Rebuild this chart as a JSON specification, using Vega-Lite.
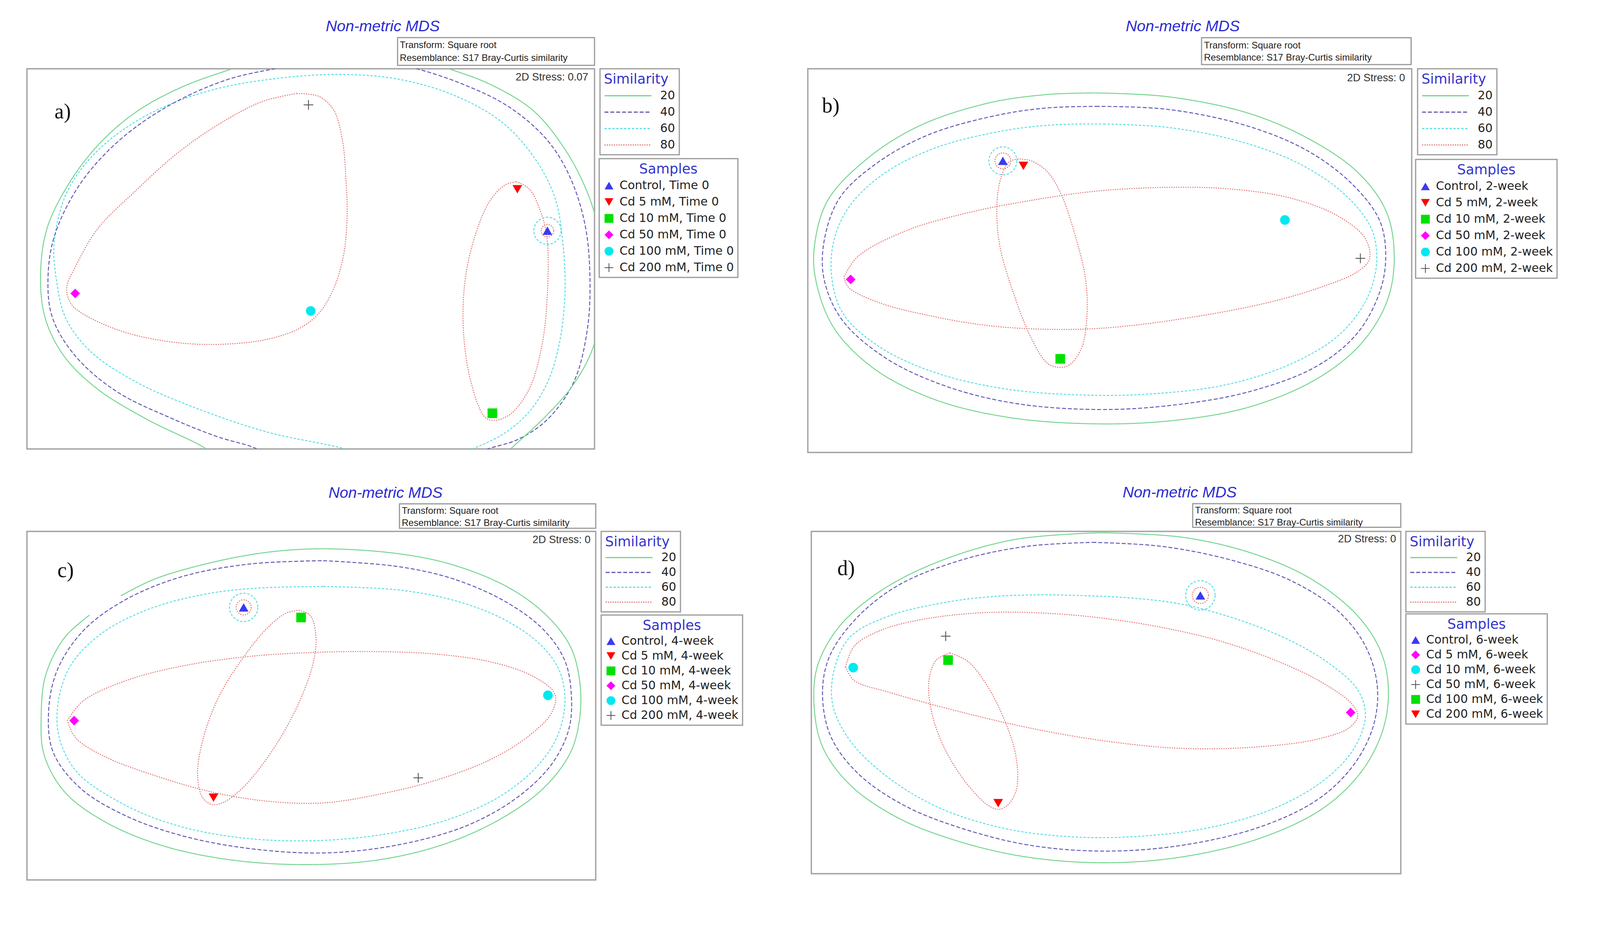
{
"$schema":"https://vega.github.io/schema/vega-lite/v6.json",
"background":"white",
"padding":{"left":67,"top":46,"right":0,"bottom":0},
"config":{
 "font":"Liberation Sans",
 "view":{"stroke":"#a3a3a3","strokeWidth":3.4},
 "title":{"anchor":"start","fontSize":39.5,"fontStyle":"italic","fontWeight":"normal","color":"#2a2ad2","font":"Liberation Sans","offset":6},
 "legend":{"strokeColor":"#9a9a9a","strokeWidth":3,"fillColor":"white","titleFont":"DejaVu Sans","labelFont":"DejaVu Sans","titleFontSize":35,"titleFontWeight":"normal","titleColor":"#3333cc","labelFontSize":30,"labelColor":"#222222","rowPadding":12,"titlePadding":9,"labelLimit":600,"padding":10}
},
"datasets":{
"ca":[
{"c":"cy","s":"60","i":0,"x":62,"y":-3},{"c":"cy","s":"60","i":1,"x":56.1,"y":0},{"c":"cy","s":"60","i":2,"x":42.2,"y":4.5},{"c":"cy","s":"60","i":3,"x":29.0,"y":11.2},{"c":"cy","s":"60","i":4,"x":19.0,"y":17.8},{"c":"cy","s":"60","i":5,"x":11.1,"y":25.8},{"c":"cy","s":"60","i":6,"x":6.8,"y":34.5},{"c":"cy","s":"60","i":7,"x":5.2,"y":44.4},{"c":"cy","s":"60","i":8,"x":4.8,"y":54.4},{"c":"cy","s":"60","i":9,"x":7.1,"y":67.7},{"c":"cy","s":"60","i":10,"x":12.4,"y":78.4},{"c":"cy","s":"60","i":11,"x":21.0,"y":87.7},{"c":"cy","s":"60","i":12,"x":32.3,"y":94.3},{"c":"cy","s":"60","i":13,"x":45.5,"y":97.7},{"c":"cy","s":"60","i":14,"x":56.1,"y":98.5},{"c":"cy","s":"60","i":15,"x":65.3,"y":97.3},{"c":"cy","s":"60","i":16,"x":75.3,"y":93.0},{"c":"cy","s":"60","i":17,"x":83.9,"y":85.7},{"c":"cy","s":"60","i":18,"x":89.8,"y":75.7},{"c":"cy","s":"60","i":19,"x":93.1,"y":65.7},{"c":"cy","s":"60","i":20,"x":94.4,"y":54.4},{"c":"cy","s":"60","i":21,"x":94.8,"y":41.1},{"c":"cy","s":"60","i":22,"x":93.8,"y":27.8},{"c":"cy","s":"60","i":23,"x":91.8,"y":17.8},{"c":"cy","s":"60","i":24,"x":88.5,"y":9.8},{"c":"cy","s":"60","i":25,"x":83.9,"y":3.9},{"c":"cy","s":"60","i":26,"x":77.2,"y":-0.8},{"c":"cy","s":"60","i":27,"x":72,"y":-4},
{"c":"p","s":"40","i":0,"x":42,"y":-2},{"c":"p","s":"40","i":1,"x":40.5,"y":0},{"c":"p","s":"40","i":2,"x":33.6,"y":3.2},{"c":"p","s":"40","i":3,"x":25.7,"y":7.9},{"c":"p","s":"40","i":4,"x":15.7,"y":15.2},{"c":"p","s":"40","i":5,"x":8.5,"y":24.5},{"c":"p","s":"40","i":6,"x":4.5,"y":34.5},{"c":"p","s":"40","i":7,"x":3.7,"y":44.4},{"c":"p","s":"40","i":8,"x":4.8,"y":55.8},{"c":"p","s":"40","i":9,"x":9.1,"y":69.1},{"c":"p","s":"40","i":10,"x":15.7,"y":80.4},{"c":"p","s":"40","i":11,"x":24.3,"y":89.7},{"c":"p","s":"40","i":12,"x":35,"y":97},{"c":"p","s":"40","i":13,"x":45.5,"y":100.5},{"c":"p","s":"40","i":14,"x":56,"y":103},{"c":"p","s":"40","i":15,"x":67.3,"y":100.5},{"c":"p","s":"40","i":16,"x":77.2,"y":95.7},{"c":"p","s":"40","i":17,"x":85.2,"y":89.7},{"c":"p","s":"40","i":18,"x":91.8,"y":81.0},{"c":"p","s":"40","i":19,"x":95.8,"y":71.1},{"c":"p","s":"40","i":20,"x":98.4,"y":58.4},{"c":"p","s":"40","i":21,"x":99.2,"y":44.4},{"c":"p","s":"40","i":22,"x":98.7,"y":31.1},{"c":"p","s":"40","i":23,"x":96.4,"y":17.8},{"c":"p","s":"40","i":24,"x":91.8,"y":7.9},{"c":"p","s":"40","i":25,"x":86.5,"y":2.5},{"c":"p","s":"40","i":26,"x":81.2,"y":0},{"c":"p","s":"40","i":27,"x":78,"y":-2},
{"c":"g","s":"20","i":0,"x":33,"y":-2},{"c":"g","s":"20","i":1,"x":31.6,"y":0},{"c":"g","s":"20","i":2,"x":21.0,"y":7.9},{"c":"g","s":"20","i":3,"x":12.4,"y":15.8},{"c":"g","s":"20","i":4,"x":6.5,"y":24.5},{"c":"g","s":"20","i":5,"x":3.2,"y":34.5},{"c":"g","s":"20","i":6,"x":2.4,"y":45.8},{"c":"g","s":"20","i":7,"x":3.5,"y":57.8},{"c":"g","s":"20","i":8,"x":7.1,"y":69.1},{"c":"g","s":"20","i":9,"x":12.4,"y":79.7},{"c":"g","s":"20","i":10,"x":19.0,"y":88.4},{"c":"g","s":"20","i":11,"x":27.0,"y":95.0},{"c":"g","s":"20","i":12,"x":36.2,"y":100},{"c":"g","s":"20","i":13,"x":45,"y":104},{"c":"g","s":"20","i":14,"x":55,"y":106},{"c":"g","s":"20","i":15,"x":65,"y":104},{"c":"g","s":"20","i":16,"x":74.3,"y":100},{"c":"g","s":"20","i":17,"x":81.9,"y":95.7},{"c":"g","s":"20","i":18,"x":89.2,"y":89.0},{"c":"g","s":"20","i":19,"x":94.4,"y":79.7},{"c":"g","s":"20","i":20,"x":98.1,"y":69.7},{"c":"g","s":"20","i":21,"x":100.4,"y":59.7},{"c":"g","s":"20","i":22,"x":101.4,"y":47.8},{"c":"g","s":"20","i":23,"x":100.7,"y":34.5},{"c":"g","s":"20","i":24,"x":99.7,"y":26.5},{"c":"g","s":"20","i":25,"x":96.4,"y":17.2},{"c":"g","s":"20","i":26,"x":91.8,"y":9.2},{"c":"g","s":"20","i":27,"x":85.2,"y":0},{"c":"g","s":"20","i":28,"x":83,"y":-3},
{"c":"r1","s":"80","i":0,"x":47.5,"y":93.5},{"c":"r1","s":"80","i":1,"x":51.5,"y":92.7},{"c":"r1","s":"80","i":2,"x":54.1,"y":89.0},{"c":"r1","s":"80","i":3,"x":55.6,"y":81.0},{"c":"r1","s":"80","i":4,"x":56.2,"y":71.1},{"c":"r1","s":"80","i":5,"x":56.4,"y":61.1},{"c":"r1","s":"80","i":6,"x":55.8,"y":51.1},{"c":"r1","s":"80","i":7,"x":54.1,"y":42.4},{"c":"r1","s":"80","i":8,"x":51.5,"y":35.8},{"c":"r1","s":"80","i":9,"x":48.1,"y":31.8},{"c":"r1","s":"80","i":10,"x":42.2,"y":28.8},{"c":"r1","s":"80","i":11,"x":33.6,"y":27.5},{"c":"r1","s":"80","i":12,"x":25.7,"y":28.1},{"c":"r1","s":"80","i":13,"x":17.7,"y":30.5},{"c":"r1","s":"80","i":14,"x":11.1,"y":34.5},{"c":"r1","s":"80","i":15,"x":7.8,"y":38.1},{"c":"r1","s":"80","i":16,"x":7.0,"y":42.4},{"c":"r1","s":"80","i":17,"x":8.5,"y":47.8},{"c":"r1","s":"80","i":18,"x":12.4,"y":57.8},{"c":"r1","s":"80","i":19,"x":19.0,"y":67.7},{"c":"r1","s":"80","i":20,"x":27.0,"y":78.4},{"c":"r1","s":"80","i":21,"x":34.9,"y":86.4},{"c":"r1","s":"80","i":22,"x":41.5,"y":91.4},{"c":"r1","s":"80","i":23,"x":47.5,"y":93.5},
{"c":"r2","s":"80","i":0,"x":86.2,"y":70.3},{"c":"r2","s":"80","i":1,"x":88.5,"y":68.4},{"c":"r2","s":"80","i":2,"x":90.8,"y":61.1},{"c":"r2","s":"80","i":3,"x":91.7,"y":54.4},{"c":"r2","s":"80","i":4,"x":91.7,"y":41.1},{"c":"r2","s":"80","i":5,"x":90.8,"y":27.8},{"c":"r2","s":"80","i":6,"x":88.5,"y":15.8},{"c":"r2","s":"80","i":7,"x":85.2,"y":9.2},{"c":"r2","s":"80","i":8,"x":82.2,"y":7.5},{"c":"r2","s":"80","i":9,"x":80.6,"y":8.5},{"c":"r2","s":"80","i":10,"x":78.2,"y":17.8},{"c":"r2","s":"80","i":11,"x":76.9,"y":31.1},{"c":"r2","s":"80","i":12,"x":77.2,"y":44.4},{"c":"r2","s":"80","i":13,"x":78.9,"y":55.8},{"c":"r2","s":"80","i":14,"x":81.5,"y":65.1},{"c":"r2","s":"80","i":15,"x":84.2,"y":69.4},{"c":"r2","s":"80","i":16,"x":86.2,"y":70.3}
],
"sa":[
{"sample":"Control, Time 0","x":91.7,"y":57.4},{"sample":"Cd 5 mM, Time 0","x":86.4,"y":68.3},{"sample":"Cd 10 mM, Time 0","x":82.0,"y":9.4},{"sample":"Cd 50 mM, Time 0","x":8.5,"y":40.9},{"sample":"Cd 100 mM, Time 0","x":50.0,"y":36.3},{"sample":"Cd 200 mM, Time 0","x":49.6,"y":90.5}
],
"cb":[
{"c":"g","s":"20","i":0,"x":47.7,"y":93.7},{"c":"g","s":"20","i":1,"x":59.7,"y":92.7},{"c":"g","s":"20","i":2,"x":73.0,"y":88.4},{"c":"g","s":"20","i":3,"x":83.0,"y":81.7},{"c":"g","s":"20","i":4,"x":91.0,"y":73.1},{"c":"g","s":"20","i":5,"x":95.7,"y":63.1},{"c":"g","s":"20","i":6,"x":97.1,"y":51.8},{"c":"g","s":"20","i":7,"x":96.0,"y":39.8},{"c":"g","s":"20","i":8,"x":91.7,"y":28.5},{"c":"g","s":"20","i":9,"x":84.3,"y":19.2},{"c":"g","s":"20","i":10,"x":73.0,"y":11.8},{"c":"g","s":"20","i":11,"x":59.7,"y":8.2},{"c":"g","s":"20","i":12,"x":46.3,"y":7.5},{"c":"g","s":"20","i":13,"x":33.0,"y":9.2},{"c":"g","s":"20","i":14,"x":21.0,"y":13.8},{"c":"g","s":"20","i":15,"x":11.0,"y":21.8},{"c":"g","s":"20","i":16,"x":4.3,"y":32.5},{"c":"g","s":"20","i":17,"x":1.3,"y":45.1},{"c":"g","s":"20","i":18,"x":1.1,"y":53.8},{"c":"g","s":"20","i":19,"x":3.3,"y":65.7},{"c":"g","s":"20","i":20,"x":9.7,"y":76.4},{"c":"g","s":"20","i":21,"x":18.3,"y":85.0},{"c":"g","s":"20","i":22,"x":29.7,"y":91.0},{"c":"g","s":"20","i":23,"x":39.7,"y":93.3},{"c":"g","s":"20","i":24,"x":47.7,"y":93.7},
{"c":"p","s":"40","i":0,"x":47.7,"y":90.2},{"c":"p","s":"40","i":1,"x":59.7,"y":89.4},{"c":"p","s":"40","i":2,"x":73.0,"y":85.0},{"c":"p","s":"40","i":3,"x":83.0,"y":78.4},{"c":"p","s":"40","i":4,"x":90.3,"y":69.7},{"c":"p","s":"40","i":5,"x":94.7,"y":60.4},{"c":"p","s":"40","i":6,"x":95.7,"y":51.1},{"c":"p","s":"40","i":7,"x":94.7,"y":41.8},{"c":"p","s":"40","i":8,"x":91.0,"y":31.1},{"c":"p","s":"40","i":9,"x":84.3,"y":22.5},{"c":"p","s":"40","i":10,"x":73.0,"y":15.8},{"c":"p","s":"40","i":11,"x":59.7,"y":12.2},{"c":"p","s":"40","i":12,"x":47.7,"y":11.2},{"c":"p","s":"40","i":13,"x":34.3,"y":12.8},{"c":"p","s":"40","i":14,"x":23.0,"y":17.2},{"c":"p","s":"40","i":15,"x":13.0,"y":24.5},{"c":"p","s":"40","i":16,"x":5.7,"y":34.5},{"c":"p","s":"40","i":17,"x":2.7,"y":45.1},{"c":"p","s":"40","i":18,"x":2.7,"y":55.1},{"c":"p","s":"40","i":19,"x":5.3,"y":66.4},{"c":"p","s":"40","i":20,"x":11.7,"y":75.7},{"c":"p","s":"40","i":21,"x":20.3,"y":83.0},{"c":"p","s":"40","i":22,"x":31.7,"y":88.0},{"c":"p","s":"40","i":23,"x":39.7,"y":89.8},{"c":"p","s":"40","i":24,"x":47.7,"y":90.2},
{"c":"cy","s":"60","i":0,"x":49.0,"y":85.6},{"c":"cy","s":"60","i":1,"x":59.7,"y":84.7},{"c":"cy","s":"60","i":2,"x":71.7,"y":81.0},{"c":"cy","s":"60","i":3,"x":81.7,"y":75.0},{"c":"cy","s":"60","i":4,"x":89.0,"y":67.1},{"c":"cy","s":"60","i":5,"x":93.3,"y":58.4},{"c":"cy","s":"60","i":6,"x":94.2,"y":49.8},{"c":"cy","s":"60","i":7,"x":92.7,"y":40.5},{"c":"cy","s":"60","i":8,"x":88.3,"y":31.1},{"c":"cy","s":"60","i":9,"x":81.0,"y":23.8},{"c":"cy","s":"60","i":10,"x":69.7,"y":17.8},{"c":"cy","s":"60","i":11,"x":56.3,"y":15.2},{"c":"cy","s":"60","i":12,"x":45.0,"y":15.0},{"c":"cy","s":"60","i":13,"x":33.0,"y":16.5},{"c":"cy","s":"60","i":14,"x":21.7,"y":20.5},{"c":"cy","s":"60","i":15,"x":12.3,"y":27.1},{"c":"cy","s":"60","i":16,"x":6.0,"y":35.8},{"c":"cy","s":"60","i":17,"x":4.0,"y":45.1},{"c":"cy","s":"60","i":18,"x":4.3,"y":55.1},{"c":"cy","s":"60","i":19,"x":7.0,"y":64.4},{"c":"cy","s":"60","i":20,"x":13.0,"y":73.1},{"c":"cy","s":"60","i":21,"x":21.7,"y":79.7},{"c":"cy","s":"60","i":22,"x":33.0,"y":84.0},{"c":"cy","s":"60","i":23,"x":41.0,"y":85.4},{"c":"cy","s":"60","i":24,"x":49.0,"y":85.6},
{"c":"r1","s":"80","i":0,"x":6.0,"y":45.8},{"c":"r1","s":"80","i":1,"x":8.3,"y":51.1},{"c":"r1","s":"80","i":2,"x":16.3,"y":57.8},{"c":"r1","s":"80","i":3,"x":26.3,"y":62.4},{"c":"r1","s":"80","i":4,"x":37.0,"y":65.7},{"c":"r1","s":"80","i":5,"x":47.7,"y":68.1},{"c":"r1","s":"80","i":6,"x":59.7,"y":69.1},{"c":"r1","s":"80","i":7,"x":69.7,"y":68.7},{"c":"r1","s":"80","i":8,"x":79.7,"y":66.4},{"c":"r1","s":"80","i":9,"x":87.7,"y":61.7},{"c":"r1","s":"80","i":10,"x":92.3,"y":55.8},{"c":"r1","s":"80","i":11,"x":93.0,"y":50.4},{"c":"r1","s":"80","i":12,"x":91.0,"y":47.1},{"c":"r1","s":"80","i":13,"x":85.0,"y":43.1},{"c":"r1","s":"80","i":14,"x":76.3,"y":39.1},{"c":"r1","s":"80","i":15,"x":63.0,"y":35.1},{"c":"r1","s":"80","i":16,"x":49.7,"y":32.5},{"c":"r1","s":"80","i":17,"x":39.7,"y":32.1},{"c":"r1","s":"80","i":18,"x":29.7,"y":33.1},{"c":"r1","s":"80","i":19,"x":19.7,"y":35.8},{"c":"r1","s":"80","i":20,"x":11.7,"y":39.1},{"c":"r1","s":"80","i":21,"x":6.7,"y":43.1},{"c":"r1","s":"80","i":22,"x":6.0,"y":45.8},
{"c":"r2","s":"80","i":0,"x":34.7,"y":76.5},{"c":"r2","s":"80","i":1,"x":37.0,"y":76.0},{"c":"r2","s":"80","i":2,"x":39.7,"y":73.1},{"c":"r2","s":"80","i":3,"x":42.0,"y":67.1},{"c":"r2","s":"80","i":4,"x":44.3,"y":56.4},{"c":"r2","s":"80","i":5,"x":46.0,"y":45.1},{"c":"r2","s":"80","i":6,"x":46.2,"y":35.1},{"c":"r2","s":"80","i":7,"x":45.3,"y":27.1},{"c":"r2","s":"80","i":8,"x":43.3,"y":22.8},{"c":"r2","s":"80","i":9,"x":41.7,"y":22.2},{"c":"r2","s":"80","i":10,"x":39.7,"y":23.2},{"c":"r2","s":"80","i":11,"x":37.0,"y":29.8},{"c":"r2","s":"80","i":12,"x":34.0,"y":41.8},{"c":"r2","s":"80","i":13,"x":31.8,"y":53.8},{"c":"r2","s":"80","i":14,"x":31.3,"y":64.4},{"c":"r2","s":"80","i":15,"x":32.0,"y":71.7},{"c":"r2","s":"80","i":16,"x":33.3,"y":75.7},{"c":"r2","s":"80","i":17,"x":34.7,"y":76.5}
],
"sb":[
{"sample":"Control, 2-week","x":32.3,"y":76.0},{"sample":"Cd 5 mM, 2-week","x":35.7,"y":74.7},{"sample":"Cd 10 mM, 2-week","x":41.8,"y":24.4},{"sample":"Cd 50 mM, 2-week","x":7.1,"y":45.1},{"sample":"Cd 100 mM, 2-week","x":79.0,"y":60.6},{"sample":"Cd 200 mM, 2-week","x":91.5,"y":50.6}
],
"cc":[
{"c":"g","s":"20","i":0,"x":16.5,"y":81.5},{"c":"g","s":"20","i":1,"x":22.4,"y":86.3},{"c":"g","s":"20","i":2,"x":32.3,"y":91.0},{"c":"g","s":"20","i":3,"x":42.2,"y":94.0},{"c":"g","s":"20","i":4,"x":52.1,"y":95.0},{"c":"g","s":"20","i":5,"x":65.3,"y":93.6},{"c":"g","s":"20","i":6,"x":75.1,"y":90.3},{"c":"g","s":"20","i":7,"x":85.0,"y":83.6},{"c":"g","s":"20","i":8,"x":91.6,"y":75.5},{"c":"g","s":"20","i":9,"x":95.6,"y":66.8},{"c":"g","s":"20","i":10,"x":97.2,"y":56.8},{"c":"g","s":"20","i":11,"x":97.2,"y":46.7},{"c":"g","s":"20","i":12,"x":95.6,"y":36.7},{"c":"g","s":"20","i":13,"x":91.0,"y":26.6},{"c":"g","s":"20","i":14,"x":83.7,"y":17.9},{"c":"g","s":"20","i":15,"x":73.8,"y":10.5},{"c":"g","s":"20","i":16,"x":62.0,"y":5.8},{"c":"g","s":"20","i":17,"x":48.8,"y":4.4},{"c":"g","s":"20","i":18,"x":35.6,"y":5.8},{"c":"g","s":"20","i":19,"x":23.7,"y":9.9},{"c":"g","s":"20","i":20,"x":13.8,"y":16.6},{"c":"g","s":"20","i":21,"x":6.6,"y":25.3},{"c":"g","s":"20","i":22,"x":3.0,"y":36.0},{"c":"g","s":"20","i":23,"x":2.5,"y":46.7},{"c":"g","s":"20","i":24,"x":3.3,"y":58.8},{"c":"g","s":"20","i":25,"x":6.6,"y":69.5},{"c":"g","s":"20","i":26,"x":11.0,"y":76.0},
{"c":"p","s":"40","i":0,"x":52.1,"y":91.6},{"c":"p","s":"40","i":1,"x":65.3,"y":89.9},{"c":"p","s":"40","i":2,"x":75.1,"y":86.3},{"c":"p","s":"40","i":3,"x":84.4,"y":79.6},{"c":"p","s":"40","i":4,"x":91.0,"y":71.5},{"c":"p","s":"40","i":5,"x":94.6,"y":62.8},{"c":"p","s":"40","i":6,"x":95.7,"y":53.4},{"c":"p","s":"40","i":7,"x":95.3,"y":43.4},{"c":"p","s":"40","i":8,"x":92.3,"y":33.3},{"c":"p","s":"40","i":9,"x":86.4,"y":23.9},{"c":"p","s":"40","i":10,"x":77.8,"y":15.9},{"c":"p","s":"40","i":11,"x":66.6,"y":10.5},{"c":"p","s":"40","i":12,"x":53.4,"y":7.8},{"c":"p","s":"40","i":13,"x":40.2,"y":8.8},{"c":"p","s":"40","i":14,"x":27.7,"y":12.5},{"c":"p","s":"40","i":15,"x":17.1,"y":18.6},{"c":"p","s":"40","i":16,"x":9.2,"y":26.6},{"c":"p","s":"40","i":17,"x":4.6,"y":36.7},{"c":"p","s":"40","i":18,"x":3.8,"y":48.1},{"c":"p","s":"40","i":19,"x":5.3,"y":60.1},{"c":"p","s":"40","i":20,"x":9.9,"y":71.5},{"c":"p","s":"40","i":21,"x":17.1,"y":80.2},{"c":"p","s":"40","i":22,"x":27.0,"y":86.9},{"c":"p","s":"40","i":23,"x":38.9,"y":90.6},{"c":"p","s":"40","i":24,"x":52.1,"y":91.6},
{"c":"cy","s":"60","i":0,"x":52.1,"y":84.2},{"c":"cy","s":"60","i":1,"x":65.3,"y":83.2},{"c":"cy","s":"60","i":2,"x":75.1,"y":80.2},{"c":"cy","s":"60","i":3,"x":83.7,"y":74.9},{"c":"cy","s":"60","i":4,"x":90.3,"y":67.5},{"c":"cy","s":"60","i":5,"x":93.6,"y":60.1},{"c":"cy","s":"60","i":6,"x":94.6,"y":51.4},{"c":"cy","s":"60","i":7,"x":93.3,"y":41.4},{"c":"cy","s":"60","i":8,"x":89.7,"y":32.6},{"c":"cy","s":"60","i":9,"x":83.1,"y":23.9},{"c":"cy","s":"60","i":10,"x":73.8,"y":17.2},{"c":"cy","s":"60","i":11,"x":62.0,"y":12.9},{"c":"cy","s":"60","i":12,"x":48.8,"y":11.2},{"c":"cy","s":"60","i":13,"x":35.6,"y":12.5},{"c":"cy","s":"60","i":14,"x":24.4,"y":16.6},{"c":"cy","s":"60","i":15,"x":15.2,"y":23.3},{"c":"cy","s":"60","i":16,"x":8.6,"y":31.3},{"c":"cy","s":"60","i":17,"x":5.6,"y":41.4},{"c":"cy","s":"60","i":18,"x":5.6,"y":52.1},{"c":"cy","s":"60","i":19,"x":7.9,"y":62.1},{"c":"cy","s":"60","i":20,"x":13.2,"y":70.8},{"c":"cy","s":"60","i":21,"x":21.1,"y":77.5},{"c":"cy","s":"60","i":22,"x":31.0,"y":81.9},{"c":"cy","s":"60","i":23,"x":40.2,"y":83.7},{"c":"cy","s":"60","i":24,"x":52.1,"y":84.2},
{"c":"r1","s":"80","i":0,"x":7.1,"y":45.7},{"c":"r1","s":"80","i":1,"x":9.9,"y":51.4},{"c":"r1","s":"80","i":2,"x":17.8,"y":57.4},{"c":"r1","s":"80","i":3,"x":27.7,"y":61.5},{"c":"r1","s":"80","i":4,"x":38.9,"y":64.1},{"c":"r1","s":"80","i":5,"x":50.8,"y":65.3},{"c":"r1","s":"80","i":6,"x":62.0,"y":65.5},{"c":"r1","s":"80","i":7,"x":71.9,"y":64.8},{"c":"r1","s":"80","i":8,"x":81.7,"y":62.5},{"c":"r1","s":"80","i":9,"x":89.0,"y":58.4},{"c":"r1","s":"80","i":10,"x":92.8,"y":53.4},{"c":"r1","s":"80","i":11,"x":92.3,"y":48.1},{"c":"r1","s":"80","i":12,"x":88.3,"y":41.4},{"c":"r1","s":"80","i":13,"x":81.7,"y":34.7},{"c":"r1","s":"80","i":14,"x":71.9,"y":28.6},{"c":"r1","s":"80","i":15,"x":62.0,"y":24.6},{"c":"r1","s":"80","i":16,"x":52.1,"y":22.1},{"c":"r1","s":"80","i":17,"x":42.2,"y":22.6},{"c":"r1","s":"80","i":18,"x":32.3,"y":25.3},{"c":"r1","s":"80","i":19,"x":22.4,"y":30.0},{"c":"r1","s":"80","i":20,"x":13.8,"y":35.3},{"c":"r1","s":"80","i":21,"x":8.6,"y":40.7},{"c":"r1","s":"80","i":22,"x":7.1,"y":45.7},
{"c":"r2","s":"80","i":0,"x":47.8,"y":77.4},{"c":"r2","s":"80","i":1,"x":49.8,"y":75.9},{"c":"r2","s":"80","i":2,"x":50.8,"y":70.2},{"c":"r2","s":"80","i":3,"x":50.4,"y":62.8},{"c":"r2","s":"80","i":4,"x":48.5,"y":53.4},{"c":"r2","s":"80","i":5,"x":45.5,"y":43.4},{"c":"r2","s":"80","i":6,"x":41.5,"y":33.3},{"c":"r2","s":"80","i":7,"x":37.6,"y":25.9},{"c":"r2","s":"80","i":8,"x":34.6,"y":22.3},{"c":"r2","s":"80","i":9,"x":32.6,"y":21.6},{"c":"r2","s":"80","i":10,"x":30.9,"y":23.6},{"c":"r2","s":"80","i":11,"x":30.0,"y":30.0},{"c":"r2","s":"80","i":12,"x":30.9,"y":40.0},{"c":"r2","s":"80","i":13,"x":33.6,"y":52.1},{"c":"r2","s":"80","i":14,"x":37.6,"y":62.8},{"c":"r2","s":"80","i":15,"x":42.2,"y":72.2},{"c":"r2","s":"80","i":16,"x":45.5,"y":76.5},{"c":"r2","s":"80","i":17,"x":47.8,"y":77.4}
],
"sc":[
{"sample":"Control, 4-week","x":38.1,"y":78.2},{"sample":"Cd 5 mM, 4-week","x":32.8,"y":23.6},{"sample":"Cd 10 mM, 4-week","x":48.2,"y":75.3},{"sample":"Cd 50 mM, 4-week","x":8.3,"y":45.7},{"sample":"Cd 100 mM, 4-week","x":91.6,"y":53.0},{"sample":"Cd 200 mM, 4-week","x":68.8,"y":29.3}
],
"cd":[
{"c":"g","s":"20","i":0,"x":49.0,"y":99.6},{"c":"g","s":"20","i":1,"x":62.9,"y":98.3},{"c":"g","s":"20","i":2,"x":74.8,"y":93.6},{"c":"g","s":"20","i":3,"x":84.8,"y":86.1},{"c":"g","s":"20","i":4,"x":92.7,"y":75.3},{"c":"g","s":"20","i":5,"x":96.7,"y":64.5},{"c":"g","s":"20","i":6,"x":97.9,"y":53.7},{"c":"g","s":"20","i":7,"x":97.0,"y":42.2},{"c":"g","s":"20","i":8,"x":93.4,"y":30.0},{"c":"g","s":"20","i":9,"x":86.8,"y":19.1},{"c":"g","s":"20","i":10,"x":76.2,"y":10.4},{"c":"g","s":"20","i":11,"x":62.9,"y":4.9},{"c":"g","s":"20","i":12,"x":49.7,"y":3.2},{"c":"g","s":"20","i":13,"x":36.4,"y":4.9},{"c":"g","s":"20","i":14,"x":24.5,"y":9.7},{"c":"g","s":"20","i":15,"x":14.6,"y":16.4},{"c":"g","s":"20","i":16,"x":6.6,"y":25.9},{"c":"g","s":"20","i":17,"x":2.0,"y":36.7},{"c":"g","s":"20","i":18,"x":0.5,"y":48.2},{"c":"g","s":"20","i":19,"x":1.0,"y":60.4},{"c":"g","s":"20","i":20,"x":4.6,"y":71.9},{"c":"g","s":"20","i":21,"x":11.3,"y":82.1},{"c":"g","s":"20","i":22,"x":21.2,"y":90.9},{"c":"g","s":"20","i":23,"x":34.4,"y":97.6},{"c":"g","s":"20","i":24,"x":49.0,"y":99.6},
{"c":"p","s":"40","i":0,"x":47.7,"y":96.8},{"c":"p","s":"40","i":1,"x":59.6,"y":95.6},{"c":"p","s":"40","i":2,"x":71.5,"y":91.5},{"c":"p","s":"40","i":3,"x":81.5,"y":85.5},{"c":"p","s":"40","i":4,"x":89.4,"y":76.7},{"c":"p","s":"40","i":5,"x":94.0,"y":66.5},{"c":"p","s":"40","i":6,"x":96.0,"y":55.0},{"c":"p","s":"40","i":7,"x":95.4,"y":43.5},{"c":"p","s":"40","i":8,"x":92.1,"y":32.0},{"c":"p","s":"40","i":9,"x":86.1,"y":21.9},{"c":"p","s":"40","i":10,"x":76.2,"y":13.7},{"c":"p","s":"40","i":11,"x":62.9,"y":8.3},{"c":"p","s":"40","i":12,"x":49.7,"y":6.6},{"c":"p","s":"40","i":13,"x":37.1,"y":8.3},{"c":"p","s":"40","i":14,"x":25.8,"y":13.1},{"c":"p","s":"40","i":15,"x":15.9,"y":19.8},{"c":"p","s":"40","i":16,"x":7.9,"y":29.3},{"c":"p","s":"40","i":17,"x":3.3,"y":40.1},{"c":"p","s":"40","i":18,"x":1.9,"y":52.3},{"c":"p","s":"40","i":19,"x":3.0,"y":63.1},{"c":"p","s":"40","i":20,"x":7.3,"y":74.0},{"c":"p","s":"40","i":21,"x":14.6,"y":84.1},{"c":"p","s":"40","i":22,"x":25.2,"y":91.5},{"c":"p","s":"40","i":23,"x":36.4,"y":95.6},{"c":"p","s":"40","i":24,"x":47.7,"y":96.8},
{"c":"cy","s":"60","i":0,"x":39.7,"y":81.5},{"c":"cy","s":"60","i":1,"x":53.0,"y":80.7},{"c":"cy","s":"60","i":2,"x":62.9,"y":78.7},{"c":"cy","s":"60","i":3,"x":72.8,"y":74.0},{"c":"cy","s":"60","i":4,"x":81.5,"y":67.9},{"c":"cy","s":"60","i":5,"x":88.1,"y":61.1},{"c":"cy","s":"60","i":6,"x":92.7,"y":53.7},{"c":"cy","s":"60","i":7,"x":94.0,"y":46.2},{"c":"cy","s":"60","i":8,"x":92.1,"y":36.7},{"c":"cy","s":"60","i":9,"x":87.4,"y":27.9},{"c":"cy","s":"60","i":10,"x":79.5,"y":19.8},{"c":"cy","s":"60","i":11,"x":68.2,"y":13.7},{"c":"cy","s":"60","i":12,"x":56.3,"y":11.0},{"c":"cy","s":"60","i":13,"x":45.0,"y":10.7},{"c":"cy","s":"60","i":14,"x":33.1,"y":13.1},{"c":"cy","s":"60","i":15,"x":21.9,"y":19.1},{"c":"cy","s":"60","i":16,"x":13.2,"y":27.9},{"c":"cy","s":"60","i":17,"x":6.6,"y":38.8},{"c":"cy","s":"60","i":18,"x":3.6,"y":49.6},{"c":"cy","s":"60","i":19,"x":4.0,"y":60.4},{"c":"cy","s":"60","i":20,"x":6.6,"y":69.2},{"c":"cy","s":"60","i":21,"x":13.2,"y":75.3},{"c":"cy","s":"60","i":22,"x":23.2,"y":79.4},{"c":"cy","s":"60","i":23,"x":31.8,"y":81.1},{"c":"cy","s":"60","i":24,"x":39.7,"y":81.5},
{"c":"r1","s":"80","i":0,"x":5.8,"y":60.4},{"c":"r1","s":"80","i":1,"x":7.3,"y":66.5},{"c":"r1","s":"80","i":2,"x":11.9,"y":71.2},{"c":"r1","s":"80","i":3,"x":19.9,"y":74.6},{"c":"r1","s":"80","i":4,"x":29.8,"y":76.3},{"c":"r1","s":"80","i":5,"x":39.7,"y":76.1},{"c":"r1","s":"80","i":6,"x":49.7,"y":74.6},{"c":"r1","s":"80","i":7,"x":59.6,"y":71.9},{"c":"r1","s":"80","i":8,"x":69.5,"y":67.9},{"c":"r1","s":"80","i":9,"x":79.5,"y":61.8},{"c":"r1","s":"80","i":10,"x":86.8,"y":55.7},{"c":"r1","s":"80","i":11,"x":91.7,"y":49.6},{"c":"r1","s":"80","i":12,"x":92.7,"y":46.2},{"c":"r1","s":"80","i":13,"x":91.4,"y":42.8},{"c":"r1","s":"80","i":14,"x":86.1,"y":39.4},{"c":"r1","s":"80","i":15,"x":76.2,"y":37.1},{"c":"r1","s":"80","i":16,"x":62.9,"y":36.6},{"c":"r1","s":"80","i":17,"x":49.7,"y":38.8},{"c":"r1","s":"80","i":18,"x":36.4,"y":42.8},{"c":"r1","s":"80","i":19,"x":23.2,"y":48.2},{"c":"r1","s":"80","i":20,"x":13.2,"y":53.0},{"c":"r1","s":"80","i":21,"x":7.3,"y":56.4},{"c":"r1","s":"80","i":22,"x":5.8,"y":60.4},
{"c":"r2","s":"80","i":0,"x":23.5,"y":64.5},{"c":"r2","s":"80","i":1,"x":26.5,"y":62.1},{"c":"r2","s":"80","i":2,"x":29.8,"y":55.0},{"c":"r2","s":"80","i":3,"x":33.1,"y":43.5},{"c":"r2","s":"80","i":4,"x":34.8,"y":33.4},{"c":"r2","s":"80","i":5,"x":34.8,"y":24.6},{"c":"r2","s":"80","i":6,"x":33.4,"y":20.2},{"c":"r2","s":"80","i":7,"x":31.8,"y":18.8},{"c":"r2","s":"80","i":8,"x":29.8,"y":20.2},{"c":"r2","s":"80","i":9,"x":25.8,"y":27.6},{"c":"r2","s":"80","i":10,"x":22.2,"y":38.1},{"c":"r2","s":"80","i":11,"x":20.2,"y":48.9},{"c":"r2","s":"80","i":12,"x":20.0,"y":57.0},{"c":"r2","s":"80","i":13,"x":21.2,"y":62.4},{"c":"r2","s":"80","i":14,"x":23.5,"y":64.5}
],
"sd":[
{"sample":"Control, 6-week","x":66.0,"y":81.3},{"sample":"Cd 5 mM, 6-week","x":91.5,"y":47.1},{"sample":"Cd 10 mM, 6-week","x":7.1,"y":60.2},{"sample":"Cd 50 mM, 6-week","x":22.8,"y":69.4},{"sample":"Cd 100 mM, 6-week","x":23.2,"y":62.4},{"sample":"Cd 200 mM, 6-week","x":31.7,"y":20.6}
]
},
"spacing":79,
"resolve":{"scale":{"stroke":"independent","strokeDash":"independent","fill":"independent","shape":"independent"}},
"vconcat":[
{"hconcat":[
{"width":1453,"height":973,"title":{"text":"Non-metric MDS","dx":765},
"layer":[
{"data":{"name":"ca"},"mark":{"type":"line","clip":true,"strokeWidth":2.4,"interpolate":"catmull-rom"},
 "encoding":{"x":{"field":"x","type":"quantitative","scale":{"domain":[0,100],"nice":false,"zero":false},"axis":null},
 "y":{"field":"y","type":"quantitative","scale":{"domain":[0,100],"nice":false,"zero":false},"axis":null},
 "detail":{"field":"c"},"order":{"field":"i","type":"quantitative"},
 "stroke":{"field":"s","type":"nominal","title":"Similarity","scale":{"domain":["20","40","60","80"],"range":["#72d48c","#5f55b3","#55dde3","#e07373"]},"legend":{"orient":"none","legendX":1467,"legendY":0,"symbolType":"stroke","symbolSize":14400,"symbolStrokeWidth":3,"clipHeight":30,"titleAnchor":"start","labelOffset":21}},
 "strokeDash":{"field":"s","type":"nominal","title":"Similarity","scale":{"domain":["20","40","60","80"],"range":[[1,0],[10,5],[6,4],[3,3]]},"legend":{"orient":"none","legendX":1467,"legendY":0,"symbolType":"stroke","symbolSize":14400,"symbolStrokeWidth":3,"clipHeight":30,"titleAnchor":"start","labelOffset":21}}}},
{"data":{"name":"sa"},"transform":[{"filter":"indexof(datum.sample,'Control')==0"}],"mark":{"type":"point","shape":"circle","filled":false,"opacity":1,"size":4847,"strokeWidth":2.4},
 "encoding":{"x":{"field":"x","type":"quantitative","axis":null},"y":{"field":"y","type":"quantitative","axis":null},"stroke":{"datum":"60"},"strokeDash":{"datum":"60"}}},
{"data":{"name":"sa"},"transform":[{"filter":"indexof(datum.sample,'Control')==0"}],"mark":{"type":"point","shape":"circle","filled":false,"opacity":1,"size":1018,"strokeWidth":2.4},
 "encoding":{"x":{"field":"x","type":"quantitative","axis":null},"y":{"field":"y","type":"quantitative","axis":null},"stroke":{"datum":"80"},"strokeDash":{"datum":"80"}}},
{"data":{"name":"sa"},"mark":{"type":"point","filled":true,"opacity":1,"size":608,"strokeWidth":0},
 "encoding":{"x":{"field":"x","type":"quantitative","axis":null},"y":{"field":"y","type":"quantitative","axis":null},
 "fill":{"field":"sample","type":"nominal","title":"Samples","scale":{"domain":["Control, Time 0","Cd 5 mM, Time 0","Cd 10 mM, Time 0","Cd 50 mM, Time 0","Cd 100 mM, Time 0","Cd 200 mM, Time 0"],"range":["#3a3af0","#ff0000","#00e000","#ff00ff","#00e8f0","#555555"]},"legend":{"orient":"none","legendX":1465,"legendY":230,"titleAnchor":"middle","symbolSize":514,"symbolStrokeWidth":0,"labelOffset":12}},
 "shape":{"field":"sample","type":"nominal","title":"Samples","scale":{"domain":["Control, Time 0","Cd 5 mM, Time 0","Cd 10 mM, Time 0","Cd 50 mM, Time 0","Cd 100 mM, Time 0","Cd 200 mM, Time 0"],"range":["triangle-up","triangle-down","square","diamond","circle","M-1,-0.09H1V0.09H-1Z M-0.09,-1H0.09V1H-0.09Z"]},"legend":{"orient":"none","legendX":1465,"legendY":230,"titleAnchor":"middle","symbolSize":514,"symbolStrokeWidth":0,"labelOffset":12}}}},
{"data":{"values":[{}]},"mark":{"type":"text","text":"a)","font":"Liberation Serif","fontSize":54,"align":"center","baseline":"middle","color":"#111111"},"encoding":{"x":{"datum":6.3},"y":{"datum":88.6}}},
{"data":{"values":[{}]},"mark":{"type":"text","text":"2D Stress: 0.07","fontSize":27,"align":"right","baseline":"middle","color":"#333333"},"encoding":{"x":{"datum":98.9},"y":{"datum":97.7}}},
{"data":{"values":[{}]},"mark":{"type":"rect","fill":"white","stroke":"#9a9a9a","strokeWidth":3},"encoding":{"x":{"datum":65.3},"x2":{"datum":100},"y":{"datum":100.9},"y2":{"datum":108.2}}},
{"data":{"values":[{}]},"mark":{"type":"text","text":"Transform: Square root","fontSize":24,"align":"left","baseline":"alphabetic","color":"#222222"},"encoding":{"x":{"datum":65.7},"y":{"datum":105.4}}},
{"data":{"values":[{}]},"mark":{"type":"text","text":"Resemblance: S17 Bray-Curtis similarity","fontSize":24,"align":"left","baseline":"alphabetic","color":"#222222"},"encoding":{"x":{"datum":65.7},"y":{"datum":102.1}}}
]},
{"width":1546,"height":982,"title":{"text":"Non-metric MDS","dx":814},
"layer":[
{"data":{"name":"cb"},"mark":{"type":"line","clip":true,"strokeWidth":2.4,"interpolate":"catmull-rom"},
 "encoding":{"x":{"field":"x","type":"quantitative","scale":{"domain":[0,100],"nice":false,"zero":false},"axis":null},
 "y":{"field":"y","type":"quantitative","scale":{"domain":[0,100],"nice":false,"zero":false},"axis":null},
 "detail":{"field":"c"},"order":{"field":"i","type":"quantitative"},
 "stroke":{"field":"s","type":"nominal","title":"Similarity","scale":{"domain":["20","40","60","80"],"range":["#72d48c","#5f55b3","#55dde3","#e07373"]},"legend":{"orient":"none","legendX":1561,"legendY":0,"symbolType":"stroke","symbolSize":14400,"symbolStrokeWidth":3,"clipHeight":30,"titleAnchor":"start","labelOffset":21}},
 "strokeDash":{"field":"s","type":"nominal","title":"Similarity","scale":{"domain":["20","40","60","80"],"range":[[1,0],[10,5],[6,4],[3,3]]},"legend":{"orient":"none","legendX":1561,"legendY":0,"symbolType":"stroke","symbolSize":14400,"symbolStrokeWidth":3,"clipHeight":30,"titleAnchor":"start","labelOffset":21}}}},
{"data":{"name":"sb"},"transform":[{"filter":"indexof(datum.sample,'Control')==0"}],"mark":{"type":"point","shape":"circle","filled":false,"opacity":1,"size":5120,"strokeWidth":2.4},
 "encoding":{"x":{"field":"x","type":"quantitative","axis":null},"y":{"field":"y","type":"quantitative","axis":null},"stroke":{"datum":"60"},"strokeDash":{"datum":"60"}}},
{"data":{"name":"sb"},"transform":[{"filter":"indexof(datum.sample,'Control')==0"}],"mark":{"type":"point","shape":"circle","filled":false,"opacity":1,"size":1649,"strokeWidth":2.4},
 "encoding":{"x":{"field":"x","type":"quantitative","axis":null},"y":{"field":"y","type":"quantitative","axis":null},"stroke":{"datum":"80"},"strokeDash":{"datum":"80"}}},
{"data":{"name":"sb"},"mark":{"type":"point","filled":true,"opacity":1,"size":608,"strokeWidth":0},
 "encoding":{"x":{"field":"x","type":"quantitative","axis":null},"y":{"field":"y","type":"quantitative","axis":null},
 "fill":{"field":"sample","type":"nominal","title":"Samples","scale":{"domain":["Control, 2-week","Cd 5 mM, 2-week","Cd 10 mM, 2-week","Cd 50 mM, 2-week","Cd 100 mM, 2-week","Cd 200 mM, 2-week"],"range":["#3a3af0","#ff0000","#00e000","#ff00ff","#00e8f0","#555555"]},"legend":{"orient":"none","legendX":1556,"legendY":232,"titleAnchor":"middle","symbolSize":514,"symbolStrokeWidth":0,"labelOffset":12}},
 "shape":{"field":"sample","type":"nominal","title":"Samples","scale":{"domain":["Control, 2-week","Cd 5 mM, 2-week","Cd 10 mM, 2-week","Cd 50 mM, 2-week","Cd 100 mM, 2-week","Cd 200 mM, 2-week"],"range":["triangle-up","triangle-down","square","diamond","circle","M-1,-0.09H1V0.09H-1Z M-0.09,-1H0.09V1H-0.09Z"]},"legend":{"orient":"none","legendX":1556,"legendY":232,"titleAnchor":"middle","symbolSize":514,"symbolStrokeWidth":0,"labelOffset":12}}}},
{"data":{"values":[{}]},"mark":{"type":"text","text":"b)","font":"Liberation Serif","fontSize":54,"align":"center","baseline":"middle","color":"#111111"},"encoding":{"x":{"datum":3.8},"y":{"datum":90.2}}},
{"data":{"values":[{}]},"mark":{"type":"text","text":"2D Stress: 0","fontSize":27,"align":"right","baseline":"middle","color":"#333333"},"encoding":{"x":{"datum":98.9},"y":{"datum":97.6}}},
{"data":{"values":[{}]},"mark":{"type":"rect","fill":"white","stroke":"#9a9a9a","strokeWidth":3},"encoding":{"x":{"datum":65.2},"x2":{"datum":99.9},"y":{"datum":101.1},"y2":{"datum":108.1}}},
{"data":{"values":[{}]},"mark":{"type":"text","text":"Transform: Square root","fontSize":24,"align":"left","baseline":"alphabetic","color":"#222222"},"encoding":{"x":{"datum":65.6},"y":{"datum":105.3}}},
{"data":{"values":[{}]},"mark":{"type":"text","text":"Resemblance: S17 Bray-Curtis similarity","fontSize":24,"align":"left","baseline":"alphabetic","color":"#222222"},"encoding":{"x":{"datum":65.6},"y":{"datum":102.1}}}
]}
],"spacing":173,"resolve":{"scale":{"stroke":"independent","strokeDash":"independent","fill":"independent","shape":"independent"}}},
{"hconcat":[
{"width":1456,"height":892,"title":{"text":"Non-metric MDS","dx":772},
"layer":[
{"data":{"name":"cc"},"mark":{"type":"line","clip":true,"strokeWidth":2.4,"interpolate":"catmull-rom"},
 "encoding":{"x":{"field":"x","type":"quantitative","scale":{"domain":[0,100],"nice":false,"zero":false},"axis":null},
 "y":{"field":"y","type":"quantitative","scale":{"domain":[0,100],"nice":false,"zero":false},"axis":null},
 "detail":{"field":"c"},"order":{"field":"i","type":"quantitative"},
 "stroke":{"field":"s","type":"nominal","title":"Similarity","scale":{"domain":["20","40","60","80"],"range":["#72d48c","#5f55b3","#55dde3","#e07373"]},"legend":{"orient":"none","legendX":1470,"legendY":0,"symbolType":"stroke","symbolSize":14400,"symbolStrokeWidth":3,"clipHeight":30,"titleAnchor":"start","labelOffset":21,"rowPadding":8,"titlePadding":7}},
 "strokeDash":{"field":"s","type":"nominal","title":"Similarity","scale":{"domain":["20","40","60","80"],"range":[[1,0],[10,5],[6,4],[3,3]]},"legend":{"orient":"none","legendX":1470,"legendY":0,"symbolType":"stroke","symbolSize":14400,"symbolStrokeWidth":3,"clipHeight":30,"titleAnchor":"start","labelOffset":21,"rowPadding":8,"titlePadding":7}}}},
{"data":{"name":"sc"},"transform":[{"filter":"indexof(datum.sample,'Control')==0"}],"mark":{"type":"point","shape":"circle","filled":false,"opacity":1,"size":5259,"strokeWidth":2.4},
 "encoding":{"x":{"field":"x","type":"quantitative","axis":null},"y":{"field":"y","type":"quantitative","axis":null},"stroke":{"datum":"60"},"strokeDash":{"datum":"60"}}},
{"data":{"name":"sc"},"transform":[{"filter":"indexof(datum.sample,'Control')==0"}],"mark":{"type":"point","shape":"circle","filled":false,"opacity":1,"size":1496,"strokeWidth":2.4},
 "encoding":{"x":{"field":"x","type":"quantitative","axis":null},"y":{"field":"y","type":"quantitative","axis":null},"stroke":{"datum":"80"},"strokeDash":{"datum":"80"}}},
{"data":{"name":"sc"},"mark":{"type":"point","filled":true,"opacity":1,"size":608,"strokeWidth":0},
 "encoding":{"x":{"field":"x","type":"quantitative","axis":null},"y":{"field":"y","type":"quantitative","axis":null},
 "fill":{"field":"sample","type":"nominal","title":"Samples","scale":{"domain":["Control, 4-week","Cd 5 mM, 4-week","Cd 10 mM, 4-week","Cd 50 mM, 4-week","Cd 100 mM, 4-week","Cd 200 mM, 4-week"],"range":["#3a3af0","#ff0000","#00e000","#ff00ff","#00e8f0","#555555"]},"legend":{"orient":"none","legendX":1470,"legendY":214,"titleAnchor":"middle","symbolSize":514,"symbolStrokeWidth":0,"labelOffset":12,"rowPadding":8,"titlePadding":7}},
 "shape":{"field":"sample","type":"nominal","title":"Samples","scale":{"domain":["Control, 4-week","Cd 5 mM, 4-week","Cd 10 mM, 4-week","Cd 50 mM, 4-week","Cd 100 mM, 4-week","Cd 200 mM, 4-week"],"range":["triangle-up","triangle-down","square","diamond","circle","M-1,-0.09H1V0.09H-1Z M-0.09,-1H0.09V1H-0.09Z"]},"legend":{"orient":"none","legendX":1470,"legendY":214,"titleAnchor":"middle","symbolSize":514,"symbolStrokeWidth":0,"labelOffset":12,"rowPadding":8,"titlePadding":7}}}},
{"data":{"values":[{}]},"mark":{"type":"text","text":"c)","font":"Liberation Serif","fontSize":54,"align":"center","baseline":"middle","color":"#111111"},"encoding":{"x":{"datum":6.8},"y":{"datum":88.7}}},
{"data":{"values":[{}]},"mark":{"type":"text","text":"2D Stress: 0","fontSize":27,"align":"right","baseline":"middle","color":"#333333"},"encoding":{"x":{"datum":99.1},"y":{"datum":97.5}}},
{"data":{"values":[{}]},"mark":{"type":"rect","fill":"white","stroke":"#9a9a9a","strokeWidth":3},"encoding":{"x":{"datum":65.5},"x2":{"datum":100},"y":{"datum":100.9},"y2":{"datum":107.9}}},
{"data":{"values":[{}]},"mark":{"type":"text","text":"Transform: Square root","fontSize":24,"align":"left","baseline":"alphabetic","color":"#222222"},"encoding":{"x":{"datum":65.9},"y":{"datum":105.0}}},
{"data":{"values":[{}]},"mark":{"type":"text","text":"Resemblance: S17 Bray-Curtis similarity","fontSize":24,"align":"left","baseline":"alphabetic","color":"#222222"},"encoding":{"x":{"datum":65.9},"y":{"datum":101.6}}}
]},
{"width":1509,"height":876,"title":{"text":"Non-metric MDS","dx":797},
"layer":[
{"data":{"name":"cd"},"mark":{"type":"line","clip":true,"strokeWidth":2.4,"interpolate":"catmull-rom"},
 "encoding":{"x":{"field":"x","type":"quantitative","scale":{"domain":[0,100],"nice":false,"zero":false},"axis":null},
 "y":{"field":"y","type":"quantitative","scale":{"domain":[0,100],"nice":false,"zero":false},"axis":null},
 "detail":{"field":"c"},"order":{"field":"i","type":"quantitative"},
 "stroke":{"field":"s","type":"nominal","title":"Similarity","scale":{"domain":["20","40","60","80"],"range":["#72d48c","#5f55b3","#55dde3","#e07373"]},"legend":{"orient":"none","legendX":1522,"legendY":0,"symbolType":"stroke","symbolSize":14400,"symbolStrokeWidth":3,"clipHeight":30,"titleAnchor":"start","labelOffset":21,"rowPadding":8,"titlePadding":7}},
 "strokeDash":{"field":"s","type":"nominal","title":"Similarity","scale":{"domain":["20","40","60","80"],"range":[[1,0],[10,5],[6,4],[3,3]]},"legend":{"orient":"none","legendX":1522,"legendY":0,"symbolType":"stroke","symbolSize":14400,"symbolStrokeWidth":3,"clipHeight":30,"titleAnchor":"start","labelOffset":21,"rowPadding":8,"titlePadding":7}}}},
{"data":{"name":"sd"},"transform":[{"filter":"indexof(datum.sample,'Control')==0"}],"mark":{"type":"point","shape":"circle","filled":false,"opacity":1,"size":5689,"strokeWidth":2.4},
 "encoding":{"x":{"field":"x","type":"quantitative","axis":null},"y":{"field":"y","type":"quantitative","axis":null},"stroke":{"datum":"60"},"strokeDash":{"datum":"60"}}},
{"data":{"name":"sd"},"transform":[{"filter":"indexof(datum.sample,'Control')==0"}],"mark":{"type":"point","shape":"circle","filled":false,"opacity":1,"size":1729,"strokeWidth":2.4},
 "encoding":{"x":{"field":"x","type":"quantitative","axis":null},"y":{"field":"y","type":"quantitative","axis":null},"stroke":{"datum":"80"},"strokeDash":{"datum":"80"}}},
{"data":{"name":"sd"},"mark":{"type":"point","filled":true,"opacity":1,"size":608,"strokeWidth":0},
 "encoding":{"x":{"field":"x","type":"quantitative","axis":null},"y":{"field":"y","type":"quantitative","axis":null},
 "fill":{"field":"sample","type":"nominal","title":"Samples","scale":{"domain":["Control, 6-week","Cd 5 mM, 6-week","Cd 10 mM, 6-week","Cd 50 mM, 6-week","Cd 100 mM, 6-week","Cd 200 mM, 6-week"],"range":["#3a3af0","#ff00ff","#00e8f0","#555555","#00e000","#ff0000"]},"legend":{"orient":"none","legendX":1522,"legendY":211,"titleAnchor":"middle","symbolSize":514,"symbolStrokeWidth":0,"labelOffset":12,"rowPadding":8,"titlePadding":7}},
 "shape":{"field":"sample","type":"nominal","title":"Samples","scale":{"domain":["Control, 6-week","Cd 5 mM, 6-week","Cd 10 mM, 6-week","Cd 50 mM, 6-week","Cd 100 mM, 6-week","Cd 200 mM, 6-week"],"range":["triangle-up","diamond","circle","M-1,-0.09H1V0.09H-1Z M-0.09,-1H0.09V1H-0.09Z","square","triangle-down"]},"legend":{"orient":"none","legendX":1522,"legendY":211,"titleAnchor":"middle","symbolSize":514,"symbolStrokeWidth":0,"labelOffset":12,"rowPadding":8,"titlePadding":7}}}},
{"data":{"values":[{}]},"mark":{"type":"text","text":"d)","font":"Liberation Serif","fontSize":54,"align":"center","baseline":"middle","color":"#111111"},"encoding":{"x":{"datum":5.9},"y":{"datum":89.0}}},
{"data":{"values":[{}]},"mark":{"type":"text","text":"2D Stress: 0","fontSize":27,"align":"right","baseline":"middle","color":"#333333"},"encoding":{"x":{"datum":99.2},"y":{"datum":97.7}}},
{"data":{"values":[{}]},"mark":{"type":"rect","fill":"white","stroke":"#9a9a9a","strokeWidth":3},"encoding":{"x":{"datum":64.7},"x2":{"datum":100},"y":{"datum":101.2},"y2":{"datum":108.1}}},
{"data":{"values":[{}]},"mark":{"type":"text","text":"Transform: Square root","fontSize":24,"align":"left","baseline":"alphabetic","color":"#222222"},"encoding":{"x":{"datum":65.1},"y":{"datum":105.2}}},
{"data":{"values":[{}]},"mark":{"type":"text","text":"Resemblance: S17 Bray-Curtis similarity","fontSize":24,"align":"left","baseline":"alphabetic","color":"#222222"},"encoding":{"x":{"datum":65.1},"y":{"datum":101.7}}}
]}
],"spacing":170,"resolve":{"scale":{"stroke":"independent","strokeDash":"independent","fill":"independent","shape":"independent"}}}
]
}
